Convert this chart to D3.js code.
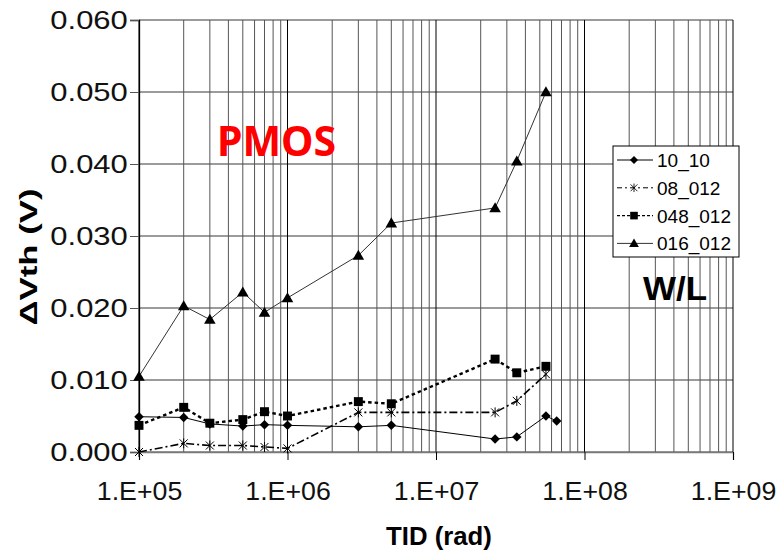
<!DOCTYPE html>
<html>
<head>
<meta charset="utf-8">
<script src="https://cdn.jsdelivr.net/npm/d3@7"></script>
<style>
  body { margin: 0; background: #fff; }
  svg text { font-family: "Liberation Sans", Arial, sans-serif; fill: #000; }
</style>
</head>
<body>
<script>
// TID dose points (rad)
var tid = [1e5, 2e5, 3e5, 5e5, 7e5, 1e6, 3e6, 5e6, 2.5e7, 3.5e7, 5.5e7];
var tid_10_10 = [1e5, 2e5, 3e5, 5e5, 7e5, 1e6, 3e6, 5e6, 2.5e7, 3.5e7, 5.5e7, 6.5e7];

// delta Vth (V) per W/L
var dv_10_10  = [0.0049, 0.0048, 0.0039, 0.0036, 0.0038, 0.0037, 0.0035, 0.0037, 0.0018, 0.0021, 0.0050, 0.0043];
var dv_08_012 = [0.0000, 0.0012, 0.0009, 0.0009, 0.0007, 0.0005, 0.0055, 0.0055, 0.0055, 0.0071, 0.0108];
var dv_048_012 = [0.0037, 0.0062, 0.0040, 0.0045, 0.0056, 0.0050, 0.0070, 0.0067, 0.0129, 0.0110, 0.0119];
var dv_016_012 = [0.0105, 0.0203, 0.0184, 0.0222, 0.0194, 0.0214, 0.0273, 0.0318, 0.0339, 0.0404, 0.0500];

var seriesNames = ["10_10", "08_012", "048_012", "016_012"];
var xTicks = [1e5, 1e6, 1e7, 1e8, 1e9];
var yTicks = [0, 0.01, 0.02, 0.03, 0.04, 0.05, 0.06];

var width = 779, height = 550;
var margin = {top: 20, right: 46, bottom: 98, left: 139};

var svg = d3.select("body").append("svg")
    .attr("width", width)
    .attr("height", height);

var x = d3.scaleLog().domain([1e5, 1e9]).range([margin.left, width - margin.right]);
var y = d3.scaleLinear().domain([0, 0.06]).range([height - margin.bottom, margin.top]);

// gridlines
var grid = svg.append("g");
grid.selectAll("line.h")
    .data(yTicks)
    .enter().append("line")
    .attr("x1", x.range()[0]).attr("x2", x.range()[1])
    .attr("y1", d => y(d)).attr("y2", d => y(d))
    .attr("stroke", "#7a7a7a")
    .attr("stroke-width", 1.3);

grid.selectAll("line.v")
    .data(x.ticks())
    .enter().append("line")
    .attr("x1", d => x(d)).attr("x2", d => x(d))
    .attr("y1", y.range()[1]).attr("y2", y.range()[0])
    .attr("stroke", d => xTicks.indexOf(d) >= 0 ? "#000" : "#555")
    .attr("stroke-width", 1);

// left axis
var yAxis = svg.append("g")
    .attr("transform", "translate(" + margin.left + ",0)")
    .call(d3.axisLeft(y).tickValues(yTicks).tickSize(9).tickPadding(0).tickFormat(d3.format(".3f")));
yAxis.select(".domain").attr("stroke", "#000").attr("stroke-width", 1.3);
yAxis.selectAll(".tick line").attr("stroke", "#555");
yAxis.selectAll("text")
    .style("font-size", "25px")
    .style("fill", "#111")
    .attr("transform", "scale(1.24,1)");

// bottom axis
var xAxis = svg.append("g")
    .attr("transform", "translate(0," + y(0) + ")")
    .call(d3.axisBottom(x).tickValues(xTicks).tickSize(8).tickFormat(d => "1.E+0" + Math.round(Math.log10(d))));
xAxis.select(".domain").attr("stroke", "#7a7a7a").attr("stroke-width", 1.3);
xAxis.selectAll(".tick line").attr("stroke", "#000");
xAxis.selectAll("text")
    .style("font-size", "25px")
    .style("fill", "#111")
    .attr("y", 48).attr("dy", 0)
    .attr("transform", "scale(1.07,1)");

// axis titles
svg.append("text")
    .attr("transform", "translate(439,545) scale(1.03,1)")
    .attr("text-anchor", "middle")
    .style("font-size", "25px")
    .style("font-weight", "bold")
    .text("TID (rad)");

svg.append("text")
    .attr("transform", "translate(37,257) rotate(-90) scale(1.45,1)")
    .attr("text-anchor", "middle")
    .style("font-size", "24px")
    .style("font-weight", "bold")
    .text("\u0394Vth (V)");

// series
var symDiamond = d3.symbol().type(d3.symbolSquare).size(45);
var symSquare = d3.symbol().type(d3.symbolSquare).size(80);
var symTriangle = d3.symbol().type(d3.symbolTriangle).size(58);
var starPath = "M-4,-4L4,4M-4,4L4,-4M0,-5L0,5";

var series = [
    {name: seriesNames[0], xs: tid_10_10, ys: dv_10_10, dash: null, width: 1, color: "#000", marker: "diamond"},
    {name: seriesNames[1], xs: tid, ys: dv_08_012, dash: "8,3,2,3", width: 1.6, color: "#000", marker: "star"},
    {name: seriesNames[2], xs: tid, ys: dv_048_012, dash: "3.5,3", width: 2.4, color: "#000", marker: "square"},
    {name: seriesNames[3], xs: tid, ys: dv_016_012, dash: null, width: 1, color: "#333", marker: "triangle"}
];

var line = d3.line().x(d => x(d[0])).y(d => y(d[1]));

function drawMarker(g, type) {
    if (type === "diamond") {
        g.append("path").attr("d", symDiamond()).attr("transform", "rotate(45)").attr("fill", "#000");
    } else if (type === "square") {
        g.append("path").attr("d", symSquare()).attr("fill", "#000");
    } else if (type === "triangle") {
        g.append("path").attr("d", symTriangle()).attr("transform", "translate(0,1)").attr("fill", "#000");
    } else {
        g.append("path").attr("d", starPath).attr("fill", "none").attr("stroke", "#000").attr("stroke-width", 1);
    }
}

series.forEach(function(s) {
    var pts = s.xs.map((v, i) => [v, s.ys[i]]);
    svg.append("path")
        .datum(pts)
        .attr("d", line)
        .attr("fill", "none")
        .attr("stroke", s.color)
        .attr("stroke-width", s.width)
        .attr("stroke-dasharray", s.dash);
    svg.append("g").selectAll("g")
        .data(pts)
        .enter().append("g")
        .attr("transform", d => "translate(" + x(d[0]) + "," + y(d[1]) + ")")
        .each(function() { drawMarker(d3.select(this), s.marker); });
});

// annotations
svg.append("text")
    .attr("x", 217).attr("y", 156)
    .style("font-family", "Noto Sans, Open Sans, sans-serif")
    .style("font-size", "41px")
    .style("font-weight", "bold")
    .style("fill", "#ff0000")
    .text("PMOS");

svg.append("text")
    .attr("transform", "translate(643,299.5) scale(1.06,1)")
    .style("font-size", "33px")
    .style("font-weight", "bold")
    .text("W/L");

// legend
var legend = svg.append("g").attr("transform", "translate(613,146)");
legend.append("rect")
    .attr("width", 126).attr("height", 111)
    .attr("fill", "#fff").attr("stroke", "#000").attr("stroke-width", 1);

series.forEach(function(s, i) {
    var row = legend.append("g").attr("transform", "translate(0," + (14 + i * 27.8) + ")");
    row.append("line")
        .attr("x1", 4).attr("x2", 40)
        .attr("stroke", s.color)
        .attr("stroke-width", s.marker === "square" ? 1.3 : 1)
        .attr("stroke-dasharray", s.dash ? (s.marker === "star" ? "5,3,2,3" : "3,2") : null);
    var m = row.append("g").attr("transform", "translate(21,0) scale(0.85)");
    drawMarker(m, s.marker);
    row.append("text")
        .attr("x", 44).attr("y", 7)
        .style("font-size", "19px")
        .text(s.name);
});
</script>
</body>
</html>
